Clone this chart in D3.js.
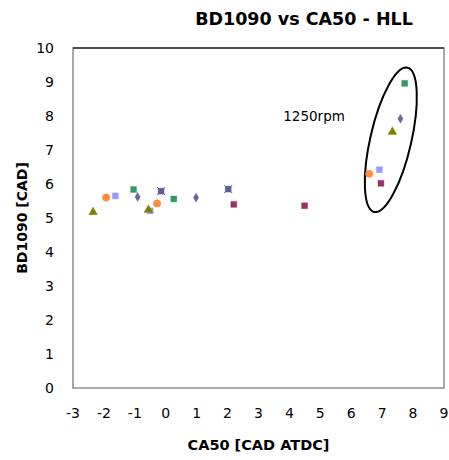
<!DOCTYPE html>
<html>
<head>
<meta charset="utf-8">
<script src="https://cdn.jsdelivr.net/npm/d3@7"></script>
<style>
  body { margin: 0; background: #fff; }
  text { font-family: "DejaVu Sans", sans-serif; fill: #000; }
</style>
</head>
<body>
<div class="chart"></div>
<script>
// series: [CA50, BD1090]
const seriesNames = ["s1", "s2", "s3", "s4", "s5", "s6", "s7"];
const s1 = [[2.20, 5.40], [4.49, 5.36], [6.96, 6.02]];      // maroon squares
const s2 = [[-1.63, 5.65], [-0.50, 5.21], [6.91, 6.42]];    // periwinkle squares
const s3 = [[-1.04, 5.84], [0.26, 5.56], [7.73, 8.96]];     // green squares
const s4 = [[-2.35, 5.17], [-0.56, 5.24], [7.33, 7.53]];    // olive triangles
const s5 = [[-1.93, 5.60], [-0.28, 5.43], [6.58, 6.30]];    // orange circles
const s6 = [[-0.91, 5.62], [0.98, 5.60], [7.59, 7.92]];     // purple diamonds
const s7 = [[-0.15, 5.79], [2.02, 5.85]];                   // slate x-squares

const xTicks = [-3, -2, -1, 0, 1, 2, 3, 4, 5, 6, 7, 8, 9];
const yTicks = [0, 1, 2, 3, 4, 5, 6, 7, 8, 9, 10];

// annotation (ellipse around 1250rpm points), in data units
const noteCenter = [7.28, 7.30];
const noteLabel = { x: 3.8, y: 8.0, text: "1250rpm" };

const styles = [
  { data: s1, color: "#993366", shape: "square" },
  { data: s2, color: "#9999ff", shape: "square" },
  { data: s3, color: "#339966", shape: "square" },
  { data: s4, color: "#808000", shape: "triangle" },
  { data: s5, color: "#ff8c40", shape: "circle" },
  { data: s6, color: "#666699", shape: "diamond" },
  { data: s7, color: "#5c5c99", shape: "xsquare" }
];

const w = 449, h = 460;
const margin = { top: 48, right: 5, bottom: 72, left: 73 };

const svg = d3.select(".chart").append("svg")
  .attr("width", w)
  .attr("height", h);

const x = d3.scaleLinear().domain([-3, 9]).range([margin.left, w - margin.right]);
const y = d3.scaleLinear().domain([0, 10]).range([h - margin.bottom, margin.top]);

// plot frame
svg.append("rect")
  .attr("x", x(-3)).attr("y", y(10))
  .attr("width", x(9) - x(-3)).attr("height", y(0) - y(10))
  .attr("fill", "none").attr("stroke", "#8c8c8c").attr("stroke-width", 1.5);
svg.append("line")
  .attr("x1", x(-3)).attr("x2", x(9)).attr("y1", y(10)).attr("y2", y(10))
  .attr("stroke", "#333").attr("stroke-width", 1.5);

// tick labels
svg.selectAll(".ytick").data(yTicks).enter().append("text")
  .attr("class", "ytick")
  .attr("x", x(-3) - 19)
  .attr("y", d => y(d))
  .attr("dy", "0.36em")
  .attr("text-anchor", "end")
  .style("font-size", "14px")
  .text(d => d);

svg.selectAll(".xtick").data(xTicks).enter().append("text")
  .attr("class", "xtick")
  .attr("x", d => x(d))
  .attr("y", y(0) + 25)
  .attr("dy", "0.36em")
  .attr("text-anchor", "middle")
  .style("font-size", "14px")
  .text(d => d);

// titles
svg.append("text")
  .attr("x", 304).attr("y", 25)
  .attr("text-anchor", "middle")
  .style("font-size", "17.5px").style("font-weight", "bold")
  .text("BD1090 vs CA50 - HLL");

svg.append("text")
  .attr("x", (x(-3) + x(9)) / 2).attr("y", 450)
  .attr("text-anchor", "middle")
  .style("font-size", "14.5px").style("font-weight", "bold")
  .text("CA50 [CAD ATDC]");

svg.append("text")
  .attr("transform", "translate(27," + (y(0) + y(10)) / 2 + ") rotate(-90)")
  .attr("text-anchor", "middle")
  .style("font-size", "14px").style("font-weight", "bold")
  .text("BD1090 [CAD]");

// annotation
svg.append("ellipse")
  .attr("transform", "translate(" + x(noteCenter[0]) + "," + y(noteCenter[1]) + ") rotate(13)")
  .attr("rx", 20.5).attr("ry", 74)
  .attr("fill", "none").attr("stroke", "#000").attr("stroke-width", 2);

svg.append("text")
  .attr("x", x(noteLabel.x)).attr("y", y(noteLabel.y))
  .attr("dy", "0.36em")
  .style("font-size", "13.5px")
  .text(noteLabel.text);

// markers
const symbols = {
  square: d3.symbol().type(d3.symbolSquare).size(36),
  triangle: d3.symbol().type(d3.symbolTriangle).size(34),
  circle: d3.symbol().type(d3.symbolCircle).size(44),
  diamond: d3.symbol().type(d3.symbolDiamond).size(24),
  xsquare: d3.symbol().type(d3.symbolSquare).size(36)
};

styles.forEach(s => {
  const g = svg.append("g");
  g.selectAll("path.m").data(s.data).enter().append("path")
    .attr("class", "m")
    .attr("transform", d => "translate(" + x(d[0]) + "," + y(d[1]) + ")")
    .attr("d", symbols[s.shape]())
    .attr("fill", s.color)
    .attr("stroke", s.color).attr("stroke-opacity", 0.35).attr("stroke-width", 1);
  if (s.shape === "xsquare") {
    g.selectAll("path.x").data(s.data).enter().append("path")
      .attr("class", "x")
      .attr("transform", d => "translate(" + x(d[0]) + "," + y(d[1]) + ")")
      .attr("d", "M-4,-4L4,4M-4,4L4,-4")
      .attr("stroke", s.color).attr("stroke-width", 1);
  }
});
</script>
</body>
</html>
